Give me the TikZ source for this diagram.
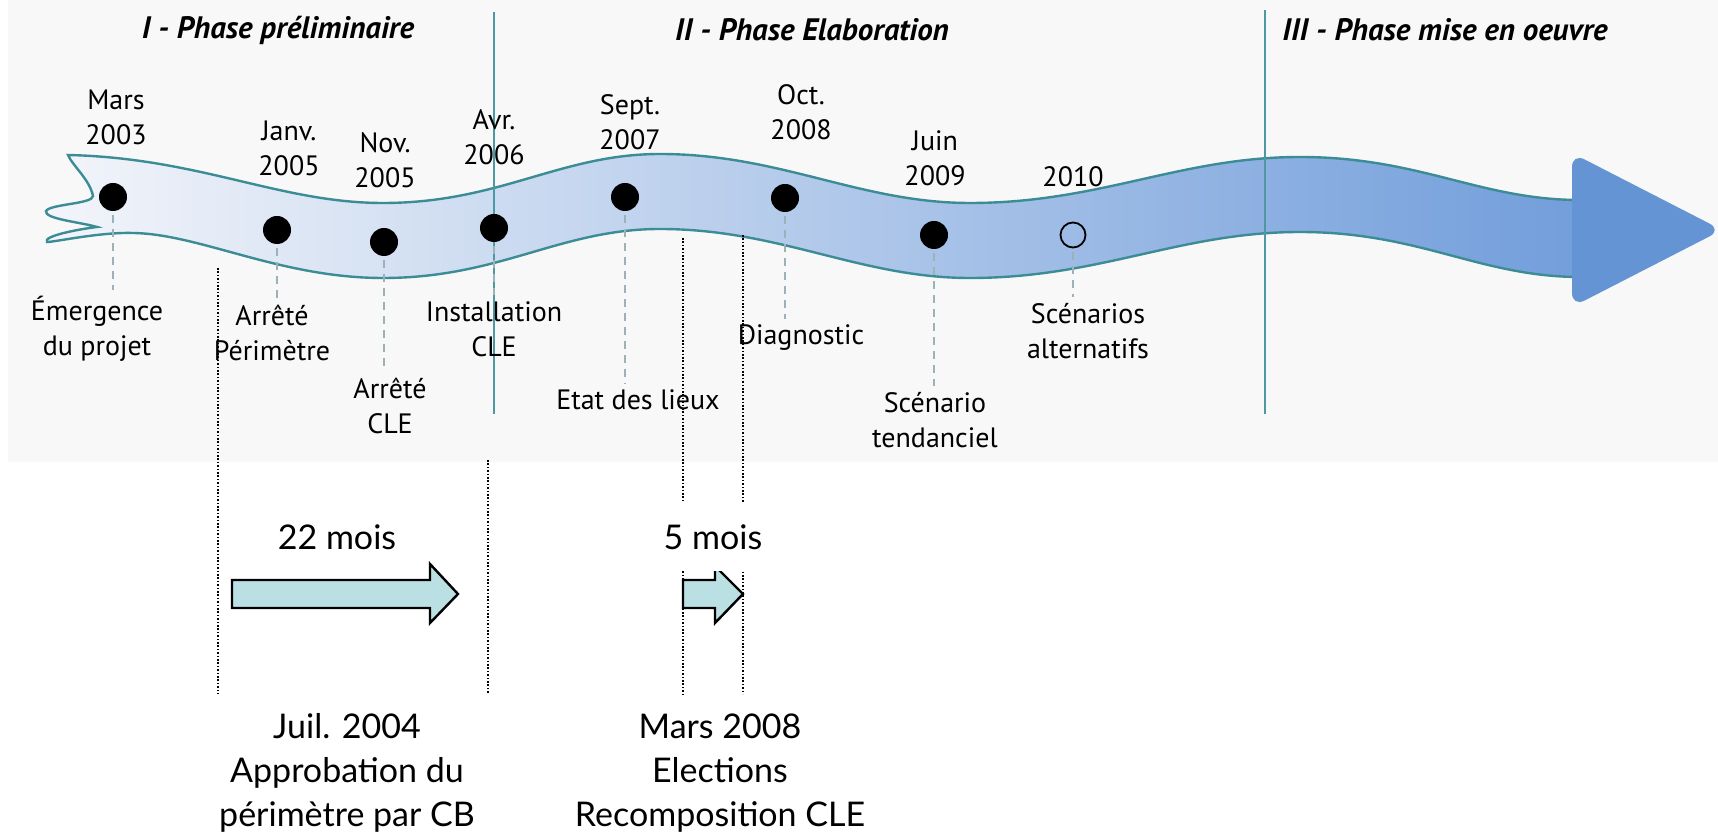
\documentclass[tikz,border=0pt]{standalone}
\usepackage{fontspec}
\setmainfont{PT Sans}
\newfontfamily\lowfont{Lato}
\usetikzlibrary{positioning}

\definecolor{panel}{HTML}{F8F8F8}
\definecolor{ribline}{HTML}{3C8C96}
\definecolor{ribleft}{HTML}{F3F5FA}
\definecolor{ribright}{HTML}{729EDB}
\definecolor{headblue}{HTML}{6494D4}
\definecolor{phaseteal}{HTML}{4E98A3}
\definecolor{tickgray}{HTML}{9AB2B8}
\definecolor{boxcyan}{HTML}{BAE0E4}

\begin{document}
\begin{tikzpicture}[x=0.5pt, y=-0.5pt,
        every node/.style={inner sep=0pt, align=center, font=\fontsize{14}{17.5}\selectfont},
        dot/.style={circle, fill=black, minimum size=14pt},
        opendot/.style={circle, draw=black, line width=0.9pt, fill=none, minimum size=12.5pt},
        tick/.style={tickgray, line width=0.6pt, dash pattern=on 4pt off 3pt},
        phaseline/.style={phaseteal, line width=0.8pt},
        phasetitle/.style={font=\fontsize{15.5}{18}\selectfont\bfseries\itshape},
        limit/.style={black, line width=0.7pt, dash pattern=on 0.8pt off 0.9pt},
        span/.style={draw=black, fill=boxcyan, line width=1.2pt},
        lowtext/.style={font=\lowfont\fontsize{17}{22}\selectfont}]
        \useasboundingbox (0,0) rectangle (1718,838);
        \fill[panel] (8,0) rectangle (1718,462);

        % ribbon
        \path[draw=ribline, line width=1.2pt, left color=ribleft, right color=ribright]
            (68,155)
            .. controls (200,158) and (280,203) .. (383,203)
            .. controls (500,203) and (560,154) .. (660,154)
            .. controls (780,154) and (860,203) .. (970,203)
            .. controls (1100,203) and (1180,157) .. (1300,157)
            .. controls (1420,157) and (1480,200) .. (1580,200)
            -- (1580,277)
            .. controls (1480,277) and (1420,232) .. (1300,232)
            .. controls (1180,232) and (1100,278) .. (970,278)
            .. controls (860,278) and (780,229) .. (660,229)
            .. controls (560,229) and (500,278) .. (383,278)
            .. controls (280,278) and (200,234) .. (133,233)
            .. controls (100,232) and (55,242) .. (47,242)
            .. controls (42,236) and (80,229) .. (97,227)
            .. controls (80,222) and (44,219) .. (46,211)
            .. controls (50,204) and (93,204) .. (93,196)
            .. controls (90,180) and (72,165) .. (68,155) -- cycle;
        \fill[headblue, rounded corners=7pt] (1572,153) -- (1722,230) -- (1572,307) -- cycle;

        % phases
        \draw[phaseline] (494,12) -- (494,414);
        \draw[phaseline] (1265,10) -- (1265,414);
        \node[phasetitle] (P1) at (278,30) {I - Phase préliminaire};
        \node[phasetitle] (P2) at (812,30) {II - Phase Elaboration};
        \node[phasetitle] (P3) at (1445,30) {III - Phase mise en oeuvre};

        % dates
        \node[dot] (D1) at (113,197) {};
        \node[dot] (D2) at (277,230) {};
        \node[dot] (D3) at (384,242) {};
        \node[dot] (D4) at (494,228) {};
        \node[dot] (D5) at (625,197) {};
        \node[dot] (D6) at (785,198) {};
        \node[dot] (D7) at (934,235) {};
        \node[opendot] (D8) at (1073,235) {};

        \node (T1) at (116,117) {Mars\\2003};
        \node (T2) at (289,148) {Janv.\\2005};
        \node (T3) at (385,160) {Nov.\\2005};
        \node (T4) at (494,137) {Avr.\\2006};
        \node (T5) at (630,122) {Sept.\\2007};
        \node (T6) at (801,112) {Oct.\\2008};
        \node (T7) at (935,158) {Juin\\2009};
        \node (T8) at (1073,177) {2010};

        \node (B1) at (97,329) {Émergence\\du projet};
        \node (B2) at (272,333) {Arrêté\\Périmètre};
        \node (B3) at (390,406) {Arrêté\\CLE};
        \node (B4) at (494,329) {Installation\\CLE};
        \node (B5) at (638,400) {Etat des lieux};
        \node (B6) at (801,338) {Diagnostic};
        \node (B7) at (935,420) {Scénario\\tendanciel};
        \node (B8) at (1088,331) {Scénarios\\alternatifs};

        \foreach \i in {1,...,8}
            \draw[tick] ([yshift=-2pt]D\i.south) -- ([yshift=3pt]D\i.south |- B\i.north);

        % durations
        \draw[limit] (218,268) -- (218,694);
        \draw[limit] (488,460) -- (488,694);
        \draw[limit] (683,238) -- (683,694);
        \draw[limit] (743,235) -- (743,694);

        \draw[span] (232,580) -- (430,580) -- (430,564) -- (458,594) -- (430,623) -- (430,608) -- (232,608) -- cycle;
        \draw[span] (683,580) -- (715,580) -- (715,566) -- (743,594) -- (715,623) -- (715,608) -- (683,608) -- cycle;

        \node[lowtext] (M1) at (337,537) {22 mois};
        \node[lowtext, fill=white, minimum height=34pt, inner xsep=3pt] (M2) at (713,537) {5 mois};

        \node[lowtext] (J1) at (347,773) {Juil. 2004\\Approbation du\\périmètre par CB};
        \node[lowtext] (J2) at (720,773) {Mars 2008\\Elections\\Recomposition CLE};
    \end{tikzpicture}
\end{document}
